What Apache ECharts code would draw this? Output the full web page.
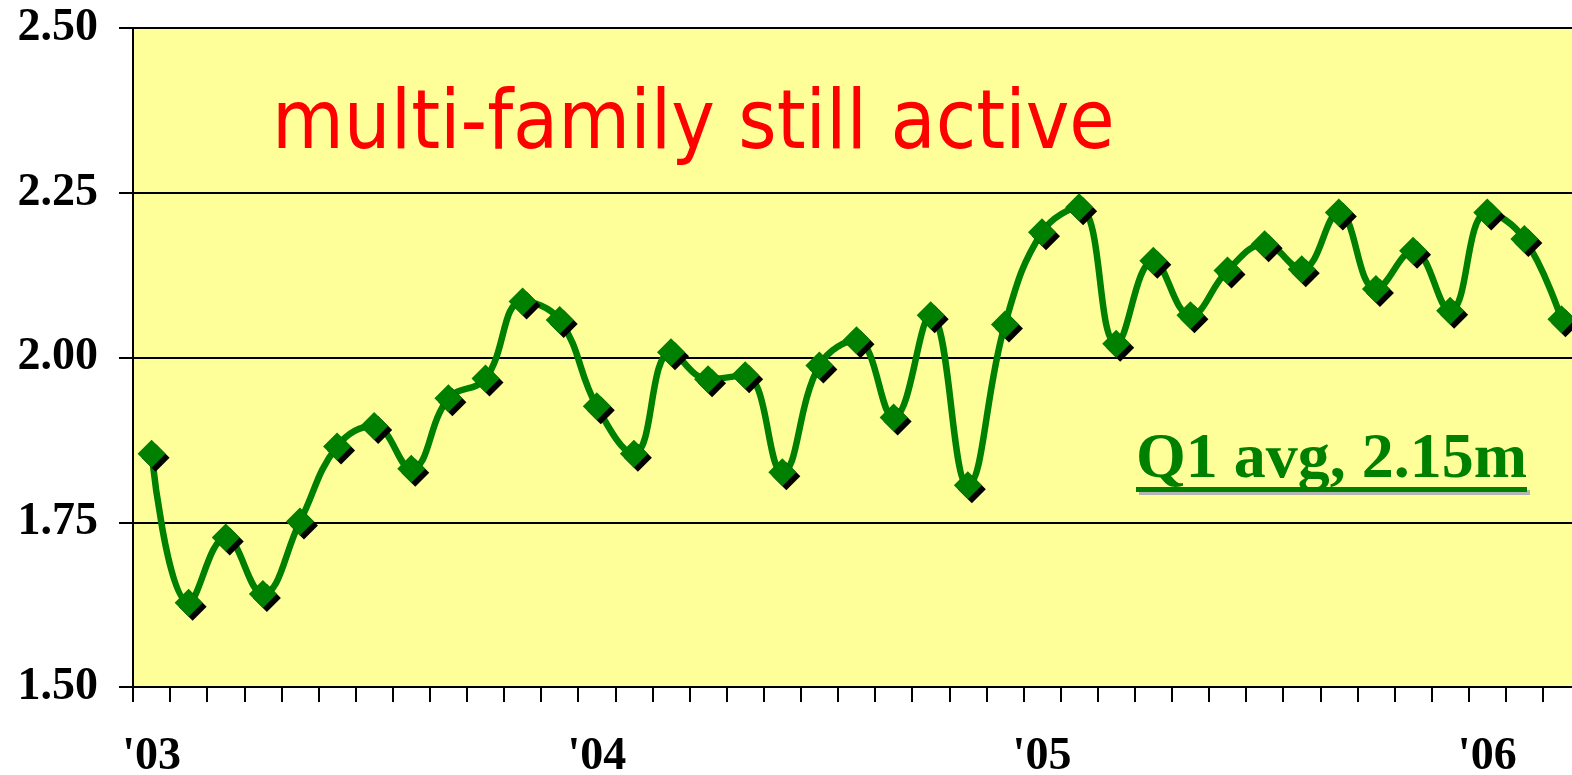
<!DOCTYPE html>
<html>
<head>
<meta charset="utf-8">
<script src="https://cdn.jsdelivr.net/npm/echarts@6/dist/echarts.min.js"></script>
<style>
html,body{margin:0;padding:0;background:#fff;overflow:hidden;}
#chart{width:1572px;height:775px;}
</style>
</head>
<body>
<div id="chart"></div>
<script>
const months = [
  'Jan 03','Feb 03','Mar 03','Apr 03','May 03','Jun 03','Jul 03','Aug 03','Sep 03','Oct 03','Nov 03','Dec 03',
  'Jan 04','Feb 04','Mar 04','Apr 04','May 04','Jun 04','Jul 04','Aug 04','Sep 04','Oct 04','Nov 04','Dec 04',
  'Jan 05','Feb 05','Mar 05','Apr 05','May 05','Jun 05','Jul 05','Aug 05','Sep 05','Oct 05','Nov 05','Dec 05',
  'Jan 06','Feb 06','Mar 06'
];
const starts = [
  1.854, 1.628, 1.727, 1.641, 1.751, 1.865, 1.896, 1.831, 1.938, 1.968, 2.085, 2.057,
  1.926, 1.854, 2.008, 1.967, 1.973, 1.826, 1.988, 2.026, 1.909, 2.064, 1.806, 2.050,
  2.190, 2.228, 2.021, 2.147, 2.064, 2.132, 2.172, 2.134, 2.220, 2.104, 2.162, 2.071,
  2.220, 2.180, 2.058
];
const yearLabels = { 'Jan 03': "'03", 'Jan 04': "'04", 'Jan 05': "'05", 'Jan 06': "'06" };
const yTicks = [1.50, 1.75, 2.00, 2.25, 2.50];
const titleText = 'multi-family still active';
const noteText = 'Q1 avg, 2.15m';

const chart = echarts.init(document.getElementById('chart'), null, { renderer: 'canvas' });
const GREEN = '#008000';
const axisFont = 'Liberation Serif';

chart.setOption({
  animation: false,
  backgroundColor: '#ffffff',
  grid: { left: 133, top: 28, width: 1447, height: 659, backgroundColor: '#FFFF99', show: true, borderWidth: 0,
          outerBoundsMode: 'none', containLabel: false },
  xAxis: {
    type: 'category',
    data: months,
    boundaryGap: true,
    axisLine: { lineStyle: { color: '#000', width: 2 } },
    axisTick: { show: true, interval: 0, length: 15, lineStyle: { color: '#000', width: 2 } },
    axisLabel: {
      interval: function (i, v) { return yearLabels[v] !== undefined; },
      formatter: function (v) { return yearLabels[v] || ''; },
      color: '#000', fontFamily: axisFont, fontWeight: 'bold', fontSize: 46, margin: 47
    },
    splitLine: { show: false }
  },
  yAxis: {
    type: 'value',
    min: yTicks[0], max: yTicks[yTicks.length - 1], interval: 0.25,
    axisLine: { show: true, lineStyle: { color: '#000', width: 2 } },
    axisTick: { show: true, length: 14, lineStyle: { color: '#000', width: 2 } },
    axisLabel: {
      formatter: function (v) { return v.toFixed(2); },
      color: '#000', fontFamily: axisFont, fontWeight: 'bold', fontSize: 46, margin: 35
    },
    splitLine: { show: true, lineStyle: { color: '#000', width: 2 } }
  },
  series: [{
    type: 'line',
    data: starts,
    smooth: 0.42,
    symbol: 'diamond',
    symbolSize: 28,
    showAllSymbol: true,
    lineStyle: { color: GREEN, width: 6.5 },
    itemStyle: { color: GREEN, shadowColor: '#000', shadowOffsetX: 4, shadowOffsetY: 4, shadowBlur: 0 },
    z: 3
  }],
  graphic: [
    {
      type: 'text', left: 272, top: 86, z: 10,
      style: { text: titleText, fill: '#FF0000', font: '82px "DejaVu Sans Condensed", "DejaVu Sans", sans-serif' }
    },
    {
      type: 'group', left: 1136, top: 428, z: 10,
      children: [
        { type: 'text', x: 0, y: 0,
          style: { text: noteText, fill: GREEN, font: 'bold 64px "Liberation Serif", serif',
                   shadowColor: '#b4b4b4', shadowOffsetX: 3, shadowOffsetY: 3, shadowBlur: 0 } },
        { type: 'rect', shape: { x: 0, y: 59, width: 391, height: 5 },
          style: { fill: GREEN, shadowColor: '#b4b4b4', shadowOffsetX: 3, shadowOffsetY: 3, shadowBlur: 0 } }
      ]
    }
  ]
});
</script>
</body>
</html>
